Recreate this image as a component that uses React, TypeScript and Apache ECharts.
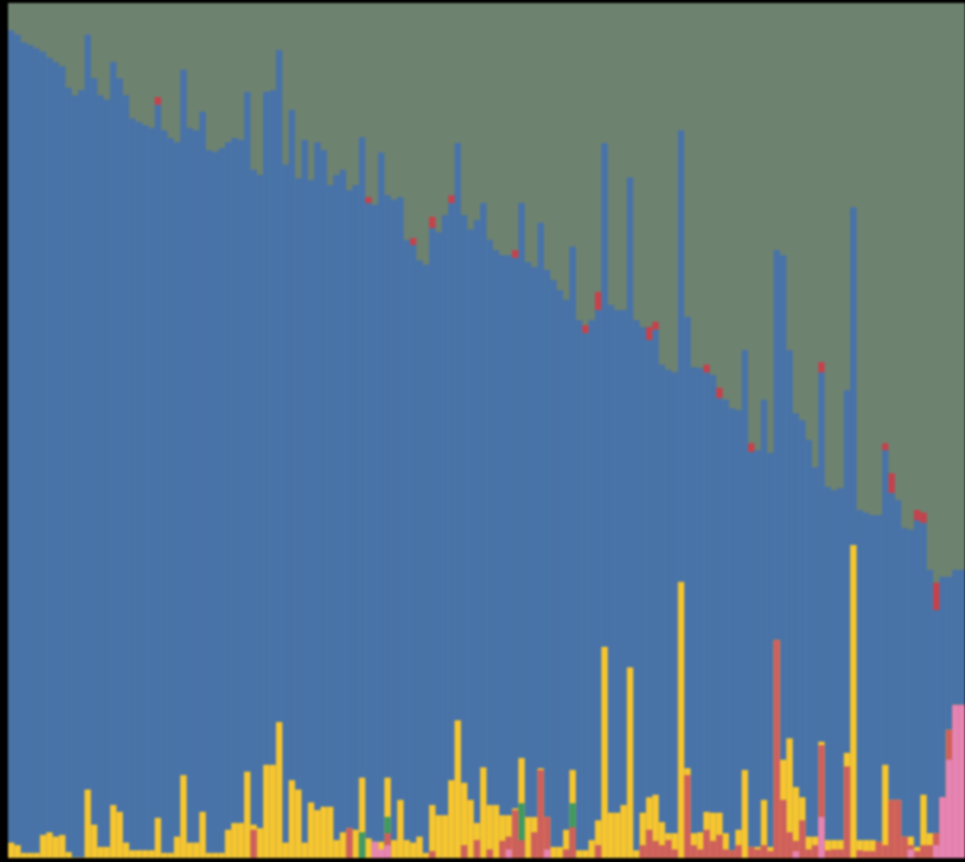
import React, { useEffect, useRef } from "react";
import * as echarts from "echarts";

// 150 bars, cumulative levels (percent of full height, 0–100)
const categories: string[] = Array.from({ length: 150 }, (_, i) => String(i + 1));

const blueTop: number[] = [
  96.8, 96.3, 95.4, 95.1, 94.7, 94.3, 93.6, 93.1, 92.6, 90.1,
  89.2, 89.8, 96.3, 91.2, 89.2, 88.7, 93.1, 91.2, 89.2, 86.5,
  86.1, 85.7, 85.4, 88.1, 85.1, 84.2, 83.7, 92.2, 85.4, 85.1,
  87.3, 82.8, 82.6, 83.0, 83.7, 84.2, 84.0, 89.6, 80.5, 79.9,
  89.6, 89.8, 94.5, 81.1, 87.5, 79.5, 84.0, 79.3, 83.7, 82.8,
  78.7, 79.9, 80.5, 78.1, 78.7, 84.3, 76.6, 76.4, 82.5, 77.5,
  77.0, 77.3, 72.3, 71.7, 69.9, 69.4, 73.7, 73.2, 75.2, 76.6,
  83.6, 75.2, 73.5, 74.6, 76.6, 72.3, 71.1, 70.5, 70.5, 70.2,
  76.6, 69.7, 69.1, 74.3, 68.8, 67.6, 66.4, 65.3, 71.5, 62.9,
  61.4, 62.9, 64.1, 83.6, 64.7, 64.1, 64.1, 79.6, 62.9, 62.1,
  60.6, 61.8, 57.7, 57.1, 56.8, 85.1, 63.3, 57.4, 57.3, 56.8,
  56.5, 53.8, 53.6, 52.6, 52.4, 59.4, 47.5, 47.7, 53.6, 47.4,
  71.1, 70.5, 59.4, 52.0, 51.2, 48.9, 45.7, 56.8, 43.4, 43.0,
  43.3, 54.7, 76.1, 40.7, 40.4, 40.1, 40.1, 47.7, 42.7, 41.9,
  38.6, 38.4, 39.5, 39.2, 33.7, 29.0, 32.9, 32.9, 33.7, 33.7,
];

// small red caps sitting on top of the blue: [bar index, lower level, upper level]
const redCaps: [number, number, number][] = [
  [23, 88.1, 89.0], [56, 76.6, 77.3], [63, 71.7, 72.5], [66, 73.7, 75.0],
  [69, 76.6, 77.5], [79, 70.2, 71.1], [90, 61.4, 62.3], [92, 64.1, 66.2],
  [100, 60.6, 62.1], [101, 61.8, 62.7], [109, 56.8, 57.7], [111, 53.8, 55.0],
  [116, 47.5, 48.5], [127, 56.8, 58.0], [137, 47.7, 48.5], [138, 42.7, 45.0],
  [142, 39.5, 40.7], [143, 39.2, 40.4], [145, 29.0, 32.2],
];

const yellowTop: number[] = [
  1.8, 1.5, 0.6, 0.6, 0.6, 2.7, 3.0, 2.5, 2.7, 0.7,
  0, 0, 8.0, 3.9, 1.3, 1.3, 6.2, 5.4, 1.8, 0.9,
  0.9, 0.9, 0.9, 4.7, 0.6, 0.6, 2.5, 9.7, 1.8, 1.8,
  5.4, 0.6, 0.6, 0.6, 3.3, 4.1, 4.1, 10.1, 3.9, 3.5,
  10.9, 10.9, 15.9, 1.8, 9.1, 8.0, 1.8, 6.5, 5.6, 6.0,
  6.0, 2.1, 3.0, 3.5, 3.3, 9.4, 2.3, 1.9, 1.9, 9.4,
  2.1, 6.8, 2.1, 1.8, 2.5, 0.6, 6.2, 5.0, 5.0, 9.1,
  16.1, 8.8, 6.8, 4.1, 10.6, 6.2, 6.2, 5.0, 5.0, 5.8,
  11.7, 4.8, 4.8, 10.5, 4.8, 1.3, 1.3, 3.3, 10.3, 0.9,
  0.9, 2.1, 4.4, 24.7, 5.3, 5.3, 6.2, 22.3, 0.9, 5.3,
  7.1, 7.4, 4.2, 2.9, 2.9, 32.3, 10.5, 2.9, 3.0, 5.4,
  5.3, 5.3, 2.9, 0.9, 3.3, 10.3, 1.3, 1.3, 6.8, 1.3,
  25.5, 11.5, 14.0, 8.3, 7.1, 2.5, 2.5, 13.6, 2.1, 2.1,
  2.1, 12.3, 36.6, 2.1, 2.1, 2.1, 1.9, 10.9, 6.8, 6.8,
  2.5, 2.5, 1.3, 7.4, 2.9, 2.9, 7.1, 15.0, 17.9, 17.9,
];

const greenTop: (number | null)[] = categories.map(() => null);
const greenParts: [number, number][] = [[55, 3.0], [59, 4.8], [80, 6.4], [88, 6.4]];
greenParts.forEach(([i, v]) => (greenTop[i] = v));

const salmonTop: (number | null)[] = categories.map(() => null);
const salmonParts: [number, number][] = [
  [38, 3.3], [53, 3.5], [59, 2.9], [66, 0.8], [71, 1.5], [73, 2.1], [75, 1.0],
  [77, 2.0], [78, 2.5], [79, 5.6], [80, 2.1], [82, 3.0], [83, 10.3], [84, 4.8],
  [87, 1.0], [88, 3.6], [92, 1.5], [99, 1.5], [100, 3.3], [101, 2.0], [102, 1.5],
  [103, 2.1], [104, 1.0], [106, 9.7], [107, 1.5], [108, 1.0], [109, 3.3],
  [110, 2.0], [111, 2.7], [112, 1.0], [113, 0.9], [114, 1.5], [116, 1.3],
  [117, 1.0], [118, 1.5], [119, 0.8], [120, 25.5], [121, 6.8], [122, 3.0],
  [123, 2.0], [124, 4.4], [125, 1.0], [126, 1.5], [127, 13.2], [128, 0.9],
  [129, 1.0], [130, 1.0], [131, 10.7], [133, 0.9], [134, 0.8], [135, 0.8],
  [136, 1.9], [137, 1.5], [138, 6.8], [139, 6.8], [140, 2.5], [141, 1.5],
  [142, 0.8], [143, 1.5], [144, 1.5], [145, 2.9], [146, 7.1], [147, 15.0],
  [148, 17.9], [149, 17.9],
];
salmonParts.forEach(([i, v]) => (salmonTop[i] = v));

const pinkTop: (number | null)[] = categories.map(() => null);
const pinkParts: [number, number][] = [
  [57, 1.9], [58, 1.0], [59, 1.5], [78, 1.0], [84, 1.0], [123, 0.8],
  [127, 4.8], [141, 1.0], [145, 1.5], [146, 7.1], [147, 11.5], [148, 17.9],
  [149, 17.9],
];
pinkParts.forEach(([i, v]) => (pinkTop[i] = v));

const COLORS = {
  top: "#6e8270",
  red: "#c4424c",
  blue: "#4873aa",
  yellow: "#f7c62f",
  green: "#3e9a62",
  salmon: "#cf5f5c",
  pink: "#e684b4",
};

export default function App() {
  const ref = useRef<HTMLDivElement>(null);
  useEffect(() => {
    if (!ref.current) return;
    const chart = echarts.init(ref.current, undefined, { renderer: "svg" });
    const mk = (name: string, data: (number | null)[], color: string, border: number) => ({
      name,
      type: "bar" as const,
      data,
      barWidth: "100%",
      barGap: "-100%",
      barCategoryGap: 0,
      silent: true,
      itemStyle: { color, borderWidth: border, borderColor: color },
    });
    chart.setOption({
      animation: false,
      grid: {
        left: 0,
        right: 0,
        top: 0,
        bottom: 0,
        show: true,
        backgroundColor: COLORS.top,
        borderWidth: 0,
      },
      xAxis: { type: "category", data: categories, show: false, boundaryGap: true },
      yAxis: { type: "value", min: 0, max: 100, show: false, splitLine: { show: false } },
      series: [
        mk("blue", blueTop, COLORS.blue, 0.8),
        mk("yellow", yellowTop, COLORS.yellow, 0.6),
        mk("green", greenTop, COLORS.green, 0.4),
        mk("salmon", salmonTop, COLORS.salmon, 0.6),
        mk("pink", pinkTop, COLORS.pink, 0.6),
        {
          name: "red",
          type: "custom",
          silent: true,
          z: 5,
          data: redCaps,
          encode: { x: 0, y: [1, 2] },
          renderItem: (_params: any, api: any) => {
            const lo = api.coord([api.value(0), api.value(1)]);
            const hi = api.coord([api.value(0), api.value(2)]);
            const w = api.size([1, 0])[0];
            return {
              type: "rect",
              shape: { x: lo[0] - w / 2, y: hi[1], width: w, height: lo[1] - hi[1] },
              style: { fill: COLORS.red },
            };
          },
        },
      ],
    });
    return () => chart.dispose();
  }, []);
  return (
    <div style={{ position: "fixed", left: 0, top: 0, width: 965, height: 862, background: "#000" }}>
      <div
        ref={ref}
        style={{
          position: "absolute",
          left: 8,
          top: 3,
          width: 957,
          height: 855,
          filter: "blur(0.8px)",
        }}
      />
    </div>
  );
}
